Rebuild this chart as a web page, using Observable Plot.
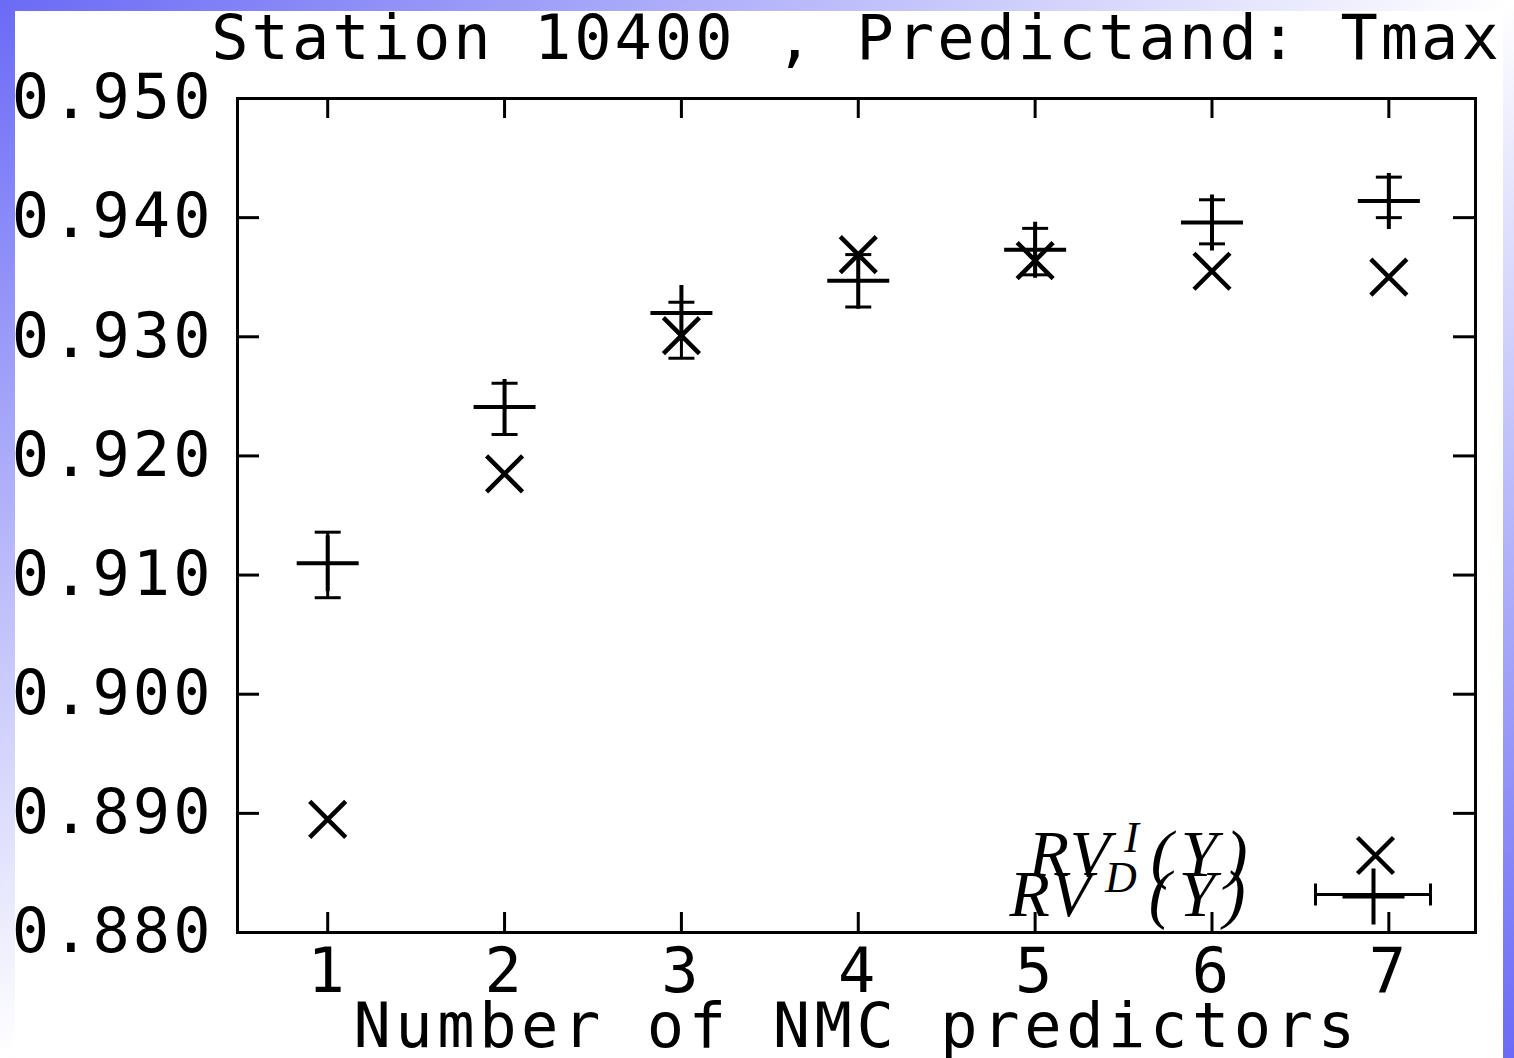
<!DOCTYPE html>
<html><head><meta charset="utf-8">
<script src="https://cdn.jsdelivr.net/npm/d3@7"></script>
<script src="https://cdn.jsdelivr.net/npm/@observablehq/plot@0.6"></script>
<style>
html,body{margin:0;padding:0;}
body{width:1514px;height:1058px;overflow:hidden;position:relative;
  background:linear-gradient(to bottom right,#6a6af6 0%,#ffffff 50%,#6a6af6 100%);}
#sheet{position:absolute;left:15px;top:11px;width:1488px;height:1047px;background:#fff;}
#chart{position:absolute;left:0;top:0;}
</style></head><body><div id="sheet"></div><div id="chart"></div>
<script>
// ---- data ----
const titleText = "Station 10400 , Predictand: Tmax";
const xLabelText = "Number of NMC predictors";
const predictors = [1, 2, 3, 4, 5, 6, 7];
const rvI     = [0.8895, 0.9185, 0.9301, 0.9369, 0.9364, 0.9355, 0.9350];
const rvD     = [0.9110, 0.9241, 0.9320, 0.9347, 0.9373, 0.9396, 0.9414];
const rvDLow  = [0.9081, 0.9218, 0.9282, 0.9325, 0.9352, 0.9378, 0.9400];
const rvDHigh = [0.9136, 0.9261, 0.9329, 0.9369, 0.9391, 0.9415, 0.9434];
const yTicks = [0.880, 0.890, 0.900, 0.910, 0.920, 0.930, 0.940, 0.950];
const xTicks = [1, 2, 3, 4, 5, 6, 7];
const legendBase = ["RV", "RV"];
const legendSup = ["I", "D"];
const legendArg = "(Y)";

const rows = predictors.map((n, i) => ({n, rvI: rvI[i], rvD: rvD[i], lo: rvDLow[i], hi: rvDHigh[i]}));
const legendTexts = legendBase.map((b, k) => b + legendSup[k] + legendArg);

// ---- layout ----
const W = 1514, H = 1058, mL = 237, mR = 39, mT = 98, mB = 126;
const plotW = W - mL - mR, plotH = H - mT - mB;
const mono = "'DejaVu Sans Mono', monospace";

const crossSym = {draw(c) { const r = 18; c.moveTo(-r, -r); c.lineTo(r, r); c.moveTo(-r, r); c.lineTo(r, -r); }};
const plusSym = {draw(c) { c.moveTo(-31, 0); c.lineTo(31, 0); c.moveTo(0, -28); c.lineTo(0, 28); }};
const capSym = {draw(c) { c.moveTo(-13, 0); c.lineTo(13, 0); }};
const keySym = {draw(c) { c.moveTo(-58, 0); c.lineTo(57, 0); c.moveTo(-58, -11); c.lineTo(-58, 11); c.moveTo(57, -11); c.lineTo(57, 11); }};

const chart = Plot.plot({
  width: W, height: H,
  marginLeft: mL, marginRight: mR, marginTop: mT, marginBottom: mB,
  style: {background: "transparent", fontFamily: mono, fontSize: "62px", letterSpacing: "3px", color: "black", overflow: "visible"},
  x: {domain: [0.49, 7.49], label: null},
  y: {domain: [0.880, 0.950], label: null},
  marks: [
    Plot.axisY(yTicks, {anchor: "left", tickSize: 0, tickPadding: 24, tickFormat: d3.format(".3f"), fontSize: 62, label: null}),
    Plot.axisX(xTicks, {anchor: "bottom", tickSize: 0, tickPadding: 15, tickFormat: d => String(d), fontSize: 62, label: null}),
    Plot.tickY(yTicks, {y: d => d, insetRight: plotW - 22, stroke: "black", strokeWidth: 3}),
    Plot.tickY(yTicks, {y: d => d, insetLeft: plotW - 22, stroke: "black", strokeWidth: 3}),
    Plot.tickX(xTicks, {x: d => d, insetTop: plotH - 20, stroke: "black", strokeWidth: 3}),
    Plot.tickX(xTicks, {x: d => d, insetBottom: plotH - 20, stroke: "black", strokeWidth: 3}),
    Plot.frame({stroke: "black", strokeWidth: 3}),
    // RV^D with error bars
    Plot.ruleX(rows, {x: "n", y1: "lo", y2: "hi", stroke: "black", strokeWidth: 3}),
    Plot.dot(rows, {x: "n", y: "lo", symbol: capSym, fill: "none", stroke: "black", strokeWidth: 3}),
    Plot.dot(rows, {x: "n", y: "hi", symbol: capSym, fill: "none", stroke: "black", strokeWidth: 3}),
    Plot.dot(rows, {x: "n", y: "rvD", symbol: plusSym, fill: "none", stroke: "black", strokeWidth: 4}),
    // RV^I
    Plot.dot(rows, {x: "n", y: "rvI", symbol: crossSym, fill: "none", stroke: "black", strokeWidth: 4.5}),
    // legend keys
    Plot.dot([0], {frameAnchor: "bottom-right", dx: -100, dy: -77, symbol: crossSym, fill: "none", stroke: "black", strokeWidth: 4.5}),
    Plot.dot([0], {frameAnchor: "bottom-right", dx: -102, dy: -38, symbol: keySym, fill: "none", stroke: "black", strokeWidth: 3}),
    Plot.dot([0], {frameAnchor: "bottom-right", dx: -102, dy: -36, symbol: plusSym, fill: "none", stroke: "black", strokeWidth: 4}),
    // legend text
    Plot.text([legendTexts[0]], {frameAnchor: "bottom-right", dx: -220, dy: -57, textAnchor: "end", lineAnchor: "bottom",
      fontFamily: "'Liberation Serif', serif", fontStyle: "italic", fontSize: 66}),
    Plot.text([legendTexts[1]], {frameAnchor: "bottom-right", dx: -222, dy: -17, textAnchor: "end", lineAnchor: "bottom",
      fontFamily: "'Liberation Serif', serif", fontStyle: "italic", fontSize: 66}),
    // title and x label
    Plot.text([titleText], {frameAnchor: "top", dy: -40, lineAnchor: "bottom", fontSize: 62}),
    Plot.text([xLabelText], {frameAnchor: "bottom", dy: 114, lineAnchor: "bottom", fontSize: 62})
  ]
});

const svg = d3.select(chart);
const allText = svg.selectAll("text");
allText.filter(function () { return this.textContent === xLabelText; }).style("letter-spacing", "4.6px");
legendTexts.forEach((s, k) => {
  allText.filter(function () { return this.textContent === s; }).each(function () {
    const t = d3.select(this).style("letter-spacing", "0px");
    t.text(null);
    t.append("tspan").style("letter-spacing", "2px").text(legendBase[k]);
    t.append("tspan").style("font-size", "44px").attr("dy", -24).attr("dx", 12).text(legendSup[k]);
    t.append("tspan").style("letter-spacing", "8px").attr("dy", 24).attr("dx", 12).text(legendArg);
  });
});

document.getElementById("chart").appendChild(chart);
</script>
</body></html>
